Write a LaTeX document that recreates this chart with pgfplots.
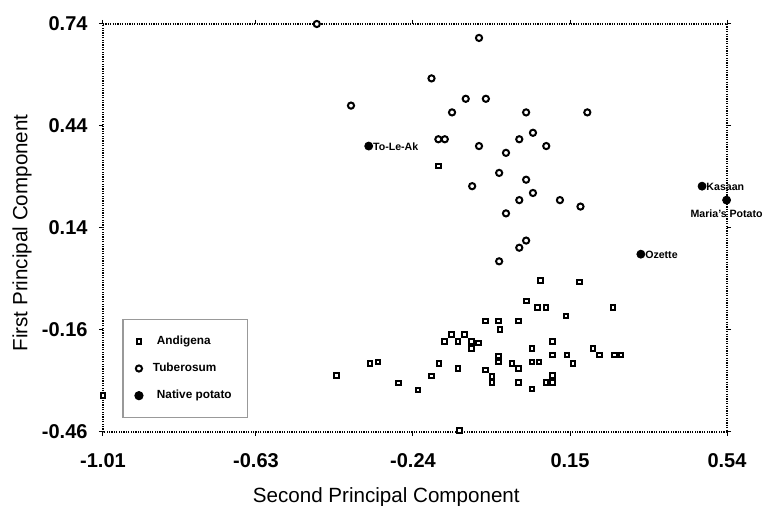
\documentclass[border=0pt]{standalone}
\usepackage{fontspec}
\setmainfont{Liberation Sans}
\usepackage{pgfplots}
\usepackage{pgfplotstable}
\pgfplotsset{compat=1.18}
\usetikzlibrary{calc}

\pgfplotstableread{
x y
-1.010 -0.353
-0.430 -0.294
-0.347 -0.258
-0.327 -0.254
-0.276 -0.316
-0.228 -0.337
-0.194 -0.295
-0.175 -0.258
-0.161 -0.194
-0.145 -0.174
-0.128 -0.194
-0.128 -0.274
-0.125 -0.456
-0.112 -0.174
-0.095 -0.194
-0.095 -0.214
-0.078 -0.198
-0.060 -0.134
-0.060 -0.278
-0.044 -0.297
-0.044 -0.315
-0.027 -0.134
-0.024 -0.158
-0.027 -0.236
-0.027 -0.254
0.006 -0.258
0.022 -0.134
0.022 -0.274
0.022 -0.315
0.042 -0.075
0.056 -0.214
0.056 -0.254
0.056 -0.334
0.073 -0.254
0.070 -0.094
0.076 -0.015
0.090 -0.094
0.090 -0.315
0.107 -0.194
0.107 -0.234
0.107 -0.293
0.107 -0.315
0.140 -0.119
0.143 -0.234
0.157 -0.258
0.174 -0.019
0.207 -0.214
0.224 -0.234
0.257 -0.094
0.261 -0.234
0.277 -0.234
-0.177 0.322
}\andigena

\pgfplotstableread{
x y
-0.479 0.740
-0.394 0.500
-0.076 0.699
-0.194 0.580
-0.109 0.520
-0.059 0.520
-0.143 0.480
0.041 0.480
0.193 0.480
-0.177 0.401
-0.161 0.401
-0.076 0.381
0.024 0.401
0.058 0.420
0.091 0.381
-0.009 0.361
-0.026 0.302
0.041 0.282
-0.093 0.263
0.058 0.243
0.024 0.222
0.125 0.222
0.176 0.203
-0.009 0.183
0.041 0.103
0.024 0.082
-0.026 0.042
}\tuberosum

\pgfplotstableread{
x y label
-0.350 0.381 To-Le-Ak
0.478 0.263 Kasaan
0.326 0.063 Ozette
}\native

\begin{document}
\begin{tikzpicture}
\begin{axis}[
    width=312pt, height=204pt, scale only axis,
    xmin=-1.01, xmax=0.54, ymin=-0.46, ymax=0.74,
    clip=false,
    xtick={-1.01,-0.63,-0.24,0.15,0.54},
    xticklabels={-1.01,-0.63,-0.24,0.15,0.54},
    ytick={-0.46,-0.16,0.14,0.44,0.74},
    yticklabels={-0.46,-0.16,0.14,0.44,0.74},
    tick align=outside, major tick length=2pt,
    tick style={black, line width=0.5pt},
    ticklabel style={font=\bfseries\fontsize{10}{12}\selectfont},
    xticklabel style={yshift=-5.2pt},
    yticklabel style={xshift=-2.2pt},
    axis line style={line width=1.1pt, dash pattern=on 0.6pt off 0.6pt},
    xlabel={Second Principal Component},
    ylabel={First Principal Component},
    xlabel style={at={(rel axis cs:0.454,-0.174)}, anchor=base, font=\fontsize{10.3}{12}\selectfont},
    ylabel style={at={(rel axis cs:-0.1298,0.488)}, anchor=center, font=\fontsize{10.3}{12}\selectfont},
    legend style={at={(rel axis cs:0.031,0.277)}, anchor=north west,
        draw=black!40, line width=0.6pt,
        font=\bfseries\fontsize{5.9}{7}\selectfont,
        inner xsep=6pt, inner ysep=6pt, row sep=3.8pt},
    legend cell align=left,
    legend image code/.code={\draw[#1] plot coordinates {(0pt,0pt)};},
]
\addplot[only marks, mark=square*, mark size=1.15pt,
    mark options={draw=black, fill=white, line width=1pt}] table[x=x,y=y] {\andigena};
\addlegendentry{\hspace{5pt}Andigena}
\addplot[only marks, mark=*, mark size=1.55pt,
    mark options={draw=black, fill=white, line width=1pt}] table[x=x,y=y] {\tuberosum};
\addlegendentry{\hspace{3pt}Tuberosum}
\addplot[only marks, mark=*, mark size=2pt,
    mark options={draw=none, fill=black},
    point meta=explicit symbolic,
    nodes near coords,
    nodes near coords style={anchor=west, inner sep=1pt, xshift=1pt, yshift=-0.5pt,
        font=\bfseries\fontsize{5.3}{6}\selectfont}] table[x=x,y=y,meta=label] {\native};
\addlegendentry{\hspace{5pt}Native potato}
\addplot[forget plot, only marks, mark=*, mark size=2pt,
    mark options={draw=none, fill=black},
    point meta=explicit symbolic,
    nodes near coords,
    nodes near coords style={anchor=north, inner sep=1pt, yshift=-3.5pt,
        font=\bfseries\fontsize{5.3}{6}\selectfont}] coordinates {(0.539,0.222) [Maria's Potato]};
\end{axis}
\pgfresetboundingbox
\path[use as bounding box] ($(current axis.south west)+(-51.5pt,-37pt)$) rectangle ($(current axis.north east)+(21pt,12pt)$);
\end{tikzpicture}
\end{document}
